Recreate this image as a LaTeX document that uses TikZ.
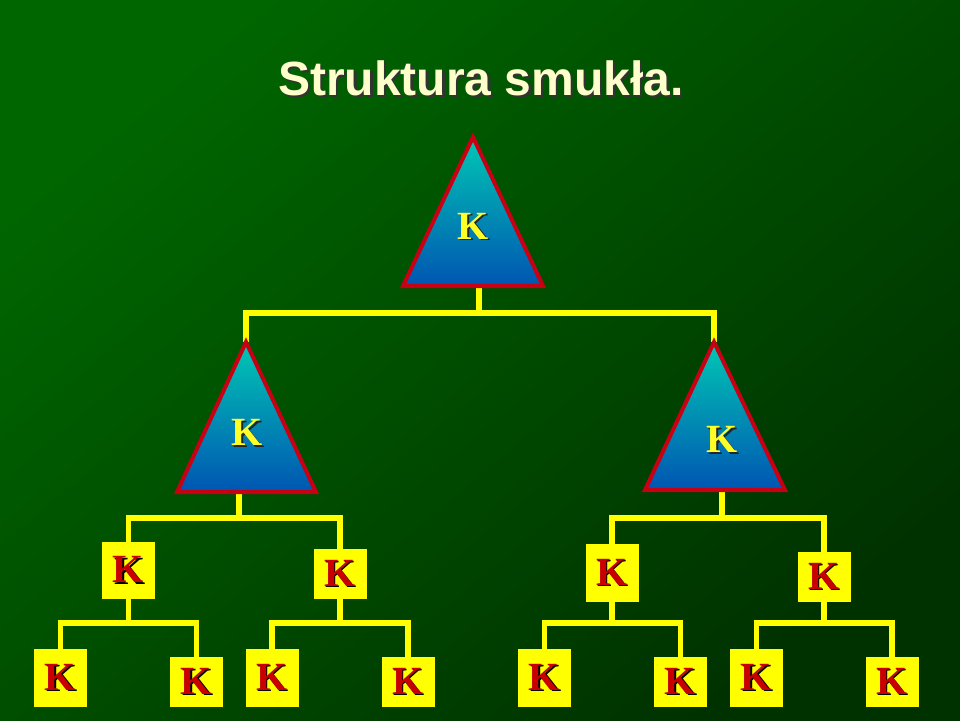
\documentclass[tikz,border=0pt]{standalone}
\usepackage{fontspec}
\setmainfont{Liberation Serif}
\setsansfont{Liberation Sans}
\definecolor{bgA}{RGB}{0,102,0}
\definecolor{bgB}{RGB}{0,50,0}
\definecolor{lineY}{RGB}{255,255,0}
\definecolor{boxY}{RGB}{255,255,0}
\definecolor{triR}{RGB}{200,0,20}
\definecolor{kred}{RGB}{200,0,0}
\definecolor{kyel}{RGB}{255,255,40}
\definecolor{triTop}{RGB}{0,200,180}
\definecolor{triMid}{RGB}{0,150,200}
\definecolor{triBot}{RGB}{0,85,178}
\definecolor{titleC}{RGB}{255,255,204}
\newcommand{\shadowed}[4]{\leavevmode\rlap{\kern#4\raisebox{-#4}{\textcolor{#3}{#1}}}\textcolor{#2}{#1}}
\pgfdeclarelayer{back}
\pgfdeclarelayer{wires}
\pgfsetlayers{back,wires,main}
\tikzset{
  conn/.style={draw=lineY, line width=5.5pt, line join=miter},
  tri/.style={draw=triR, line width=4pt, line join=miter, top color=triTop, middle color=triMid, bottom color=triBot},
  kbox/.style={fill=boxY, minimum width=53pt, inner sep=0pt, anchor=south, font=\bfseries\fontsize{40}{40}\selectfont},
  ktri/.style={inner sep=0pt, font=\bfseries\fontsize{40}{40}\selectfont},
  titlestyle/.style={inner sep=0pt, anchor=base, font=\sffamily\bfseries\fontsize{48}{48}\selectfont}
}
\newcommand{\RK}{\shadowed{K}{kred}{black}{1.5pt}}
\newcommand{\YK}{\shadowed{K}{kyel}{black!85}{1.8pt}}
\begin{document}
\begin{tikzpicture}[x=1pt,y=-1pt]
\useasboundingbox (0,0) rectangle (960,720);
\begin{pgfonlayer}{back}
\shade[top color=bgA, bottom color=bgB, shading angle=40] (0,0) rectangle (960,720);
\end{pgfonlayer}

% title
\node[titlestyle] (title) at (481,95) {\shadowed{Struktura smukła.}{titleC}{black!80}{2.2pt}};

% coordinates of triangles
\coordinate (t1top) at (473,137);
\coordinate (t1bot) at (479,286);
\coordinate (t2top) at (246,342);
\coordinate (t2bot) at (239,492);
\coordinate (t3top) at (714,342);
\coordinate (t3bot) at (722,490);
\coordinate (bar1) at (0,313);
\coordinate (bar2) at (0,518);
\coordinate (bar3) at (0,623);

% level-3 boxes
\node[kbox, minimum height=57pt] (b1) at (128.5,599) {\RK};
\node[kbox, minimum height=50pt] (b2) at (340,599) {\RK};
\node[kbox, minimum height=58pt] (b3) at (612,602) {\RK};
\node[kbox, minimum height=50pt] (b4) at (824,602) {\RK};

% level-4 boxes
\node[kbox, minimum height=58pt] (ba) at (60.5,707) {\RK};
\node[kbox, minimum height=50pt] (bb) at (196.5,707) {\RK};
\node[kbox, minimum height=58pt] (bc) at (272,707) {\RK};
\node[kbox, minimum height=50pt] (bd) at (408,707) {\RK};
\node[kbox, minimum height=58pt] (be) at (544.5,707) {\RK};
\node[kbox, minimum height=50pt] (bf) at (680.5,707) {\RK};
\node[kbox, minimum height=58pt] (bg) at (756.5,707) {\RK};
\node[kbox, minimum height=50pt] (bh) at (892,707) {\RK};

% connectors (under the shapes)
\begin{pgfonlayer}{wires}
\draw[conn] (t1bot) -- (t1bot |- bar1);
\draw[conn] (t2top) -- (t2top |- bar1) -- (t3top |- bar1) -- (t3top);

\draw[conn] (t2bot) -- (t2bot |- bar2);
\draw[conn] (b1.north) -- (b1.north |- bar2) -- (b2.north |- bar2) -- (b2.north);
\draw[conn] (t3bot) -- (t3bot |- bar2);
\draw[conn] (b3.north) -- (b3.north |- bar2) -- (b4.north |- bar2) -- (b4.north);

\draw[conn] (b1.south) -- (b1.south |- bar3);
\draw[conn] (ba.north) -- (ba.north |- bar3) -- (bb.north |- bar3) -- (bb.north);
\draw[conn] (b2.south) -- (b2.south |- bar3);
\draw[conn] (bc.north) -- (bc.north |- bar3) -- (bd.north |- bar3) -- (bd.north);
\draw[conn] (b3.south) -- (b3.south |- bar3);
\draw[conn] (be.north) -- (be.north |- bar3) -- (bf.north |- bar3) -- (bf.north);
\draw[conn] (b4.south) -- (b4.south |- bar3);
\draw[conn] (bg.north) -- (bg.north |- bar3) -- (bh.north |- bar3) -- (bh.north);
\end{pgfonlayer}

% triangles
\path[tri] (t1top) -- (543,286) -- (403,286) -- cycle;
\path[tri] (t2top) -- (316,492) -- (177,492) -- cycle;
\path[tri] (t3top) -- (785,490) -- (645,490) -- cycle;
\node[ktri] (k1) at (473,227) {\YK};
\node[ktri] (k2) at (247,433) {\YK};
\node[ktri] (k3) at (722,440) {\YK};
\end{tikzpicture}
\end{document}
